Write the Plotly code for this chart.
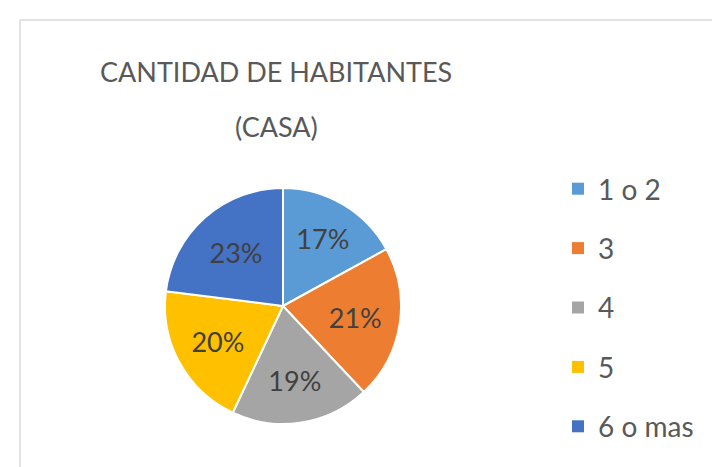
import plotly.graph_objects as go

categories = ["1 o 2", "3", "4", "5", "6 o mas"]
values = [17, 21, 19, 20, 23]
colors = ["#5B9BD5", "#ED7D31", "#A5A5A5", "#FFC000", "#4472C4"]
title_lines = ["CANTIDAD DE HABITANTES", "(CASA)"]

W, H = 720, 467
FONT = "Lato"

fig = go.Figure()
fig.add_trace(go.Pie(
    labels=categories, values=values, sort=False, direction="clockwise",
    rotation=0, marker=dict(colors=colors, line=dict(color="white", width=2)),
    texttemplate="%{percent:.0%}", textposition="inside", insidetextorientation="horizontal",
    textfont=dict(family=FONT, size=27, color="#404040"),
    domain=dict(x=[157 / W, 393 / W], y=[(H - 418) / H, (H - 178) / H]),
    showlegend=False, hoverinfo="label+percent",
))

# legend proxies
for cat, col in zip(categories, colors):
    fig.add_trace(go.Scatter(
        x=[None], y=[None], mode="markers", name=cat,
        marker=dict(symbol="square", size=11, color=col),
        legendgroup=cat, showlegend=True,
    ))

for line, yc in zip(title_lines, [63, 118]):
    fig.add_annotation(text=line, x=268 / W, y=1 - yc / H, xref="paper", yref="paper",
                       xanchor="center", yanchor="middle", showarrow=False,
                       font=dict(family=FONT, size=27, color="#595959"))

fig.update_layout(
    width=W, height=H, autosize=False,
    margin=dict(l=0, r=0, t=0, b=0, autoexpand=False),
    paper_bgcolor="white", plot_bgcolor="white",
    xaxis=dict(visible=False), yaxis=dict(visible=False),
    legend=dict(x=550 / W, y=1 - 156 / H, xanchor="left", yanchor="top",
                font=dict(family=FONT, size=28, color="#595959"),
                tracegroupgap=20, itemwidth=30, itemsizing="constant", bgcolor="rgba(0,0,0,0)"),
    shapes=[
        dict(type="line", xref="paper", yref="paper", x0=12 / W, x1=1, y0=1 - 12 / H, y1=1 - 12 / H,
             line=dict(color="#D9D9D9", width=1.5)),
        dict(type="line", xref="paper", yref="paper", x0=12 / W, x1=12 / W, y0=0, y1=1 - 12 / H,
             line=dict(color="#D9D9D9", width=1.5)),
    ],
)

fig.write_html("out.html")
